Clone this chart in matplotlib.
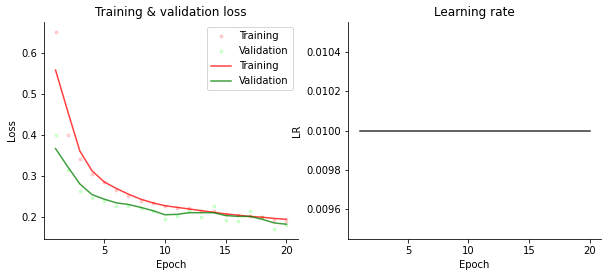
import numpy as np
import matplotlib.pyplot as plt

epochs = np.arange(1, 21)

# raw loss per epoch
train_loss = [0.651, 0.399, 0.341, 0.304, 0.285, 0.267, 0.252, 0.240, 0.235, 0.227,
              0.222, 0.222, 0.215, 0.215, 0.208, 0.205, 0.203, 0.200, 0.193, 0.192]
val_loss = [0.399, 0.314, 0.265, 0.246, 0.240, 0.227, 0.228, 0.222, 0.215, 0.195,
            0.202, 0.214, 0.200, 0.227, 0.193, 0.191, 0.215, 0.200, 0.171, 0.180]

# smoothed curves
train_smooth = [0.558, 0.458, 0.361, 0.313, 0.286, 0.270, 0.256, 0.244, 0.235, 0.228,
                0.224, 0.220, 0.216, 0.212, 0.208, 0.205, 0.202, 0.200, 0.197, 0.195]
val_smooth = [0.367, 0.323, 0.281, 0.255, 0.244, 0.235, 0.231, 0.224, 0.216, 0.206,
              0.207, 0.211, 0.211, 0.211, 0.204, 0.202, 0.202, 0.195, 0.186, 0.183]

lr = [0.01] * 20

W, H = 609, 278
fig = plt.figure(figsize=(W / 72, H / 72), dpi=72)
ax1 = fig.add_axes([44 / W, 1 - 239 / H, 254 / W, 217 / H])
ax2 = fig.add_axes([348 / W, 1 - 239 / H, 253 / W, 217 / H])

ax1.plot(epochs, train_loss, '.', color='r', alpha=0.15, label='Training')
ax1.plot(epochs, val_loss, '.', color='lime', alpha=0.15, label='Validation')
ax1.plot(epochs, train_smooth, color='r', alpha=0.75, label='Training')
ax1.plot(epochs, val_smooth, color='g', alpha=0.75, label='Validation')
ax1.set_title('Training & validation loss')
ax1.set_xlabel('Epoch')
ax1.set_ylabel('Loss')
ax1.set_xticks([5, 10, 15, 20])
ax1.legend()

ax2.plot(epochs, lr, color='k', alpha=0.8)
ax2.set_title('Learning rate')
ax2.set_xlabel('Epoch')
ax2.set_ylabel('LR')
ax2.set_xticks([5, 10, 15, 20])

for ax in (ax1, ax2):
    ax.spines['top'].set_visible(False)
    ax.spines['right'].set_visible(False)

fig.savefig('out.png', dpi=72)
